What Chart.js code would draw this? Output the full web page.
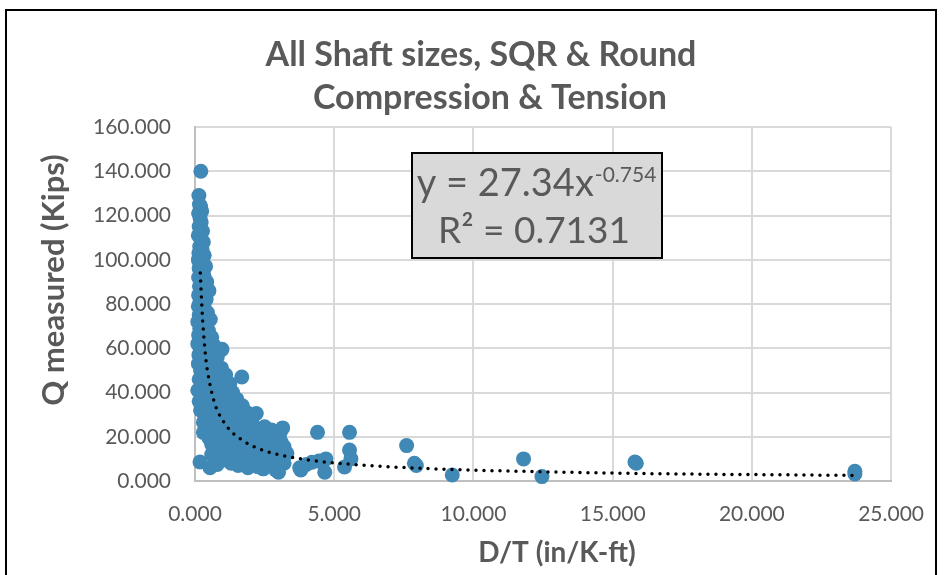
<!DOCTYPE html>
<html>
<head>
<meta charset="utf-8">
<script src="https://cdn.jsdelivr.net/npm/chart.js@4.4.0/dist/chart.umd.min.js"></script>
<style>
html,body{margin:0;padding:0;background:#fff;overflow:hidden;}
#wrap{position:relative;width:945px;height:575px;}
#frame{position:absolute;left:5px;top:9px;width:932px;height:620px;border:2px solid #000;box-sizing:border-box;}
</style>
</head>
<body>
<div id="wrap">
<canvas id="mycanvas" width="945" height="575"></canvas>
<div id="frame"></div>
</div>
<script>
// chart texts
var titleLines = ['All Shaft sizes, SQR & Round', 'Compression & Tension'];
var xTitle = 'D/T (in/K-ft)';
var yTitle = 'Q measured (Kips)';
var eqMain = 'y = 27.34x';
var eqExp = '-0.754';
var eqR2 = 'R\u00B2 = 0.7131';

// tick labels
var xTicks = [0, 5, 10, 15, 20, 25];
var yTicks = [0, 20, 40, 60, 80, 100, 120, 140, 160];

// measured points, D/T (x) and Q (y)
var dtVals = [
	0.21,0.14,0.16,0.2,0.24,0.13,0.18,0.22,0.15,0.27,0.12,0.2,0.3,0.17,0.25,0.14,0.33,0.21,0.12,0.28,0.18,
	0.38,0.15,0.24,0.32,0.13,0.2,0.42,0.27,0.16,0.35,0.5,0.22,0.13,0.3,0.4,0.18,0.26,
	0.12,0.34,0.2,0.45,0.15,0.28,0.55,0.1,0.22,0.38,0.17,0.48,0.3,0.13,0.6,0.25,0.42,0.1,0.7,0.2,0.97,0.35,0.55,0.14,
	0.8,0.27,0.45,0.12,0.65,0.95,0.2,0.38,1.1,1.68,0.55,0.15,0.8,1.25,0.3,0.6,1.0,0.1,0.45,1.35,0.75,
	0.25,1.15,0.55,0.9,1.5,0.15,1.3,0.7,1.05,1.7,0.4,0.85,1.4,0.2,1.2,0.6,1.85,2.2,1.0,0.35,1.55,0.75,1.25,0.5,1.9,0.9,0.3,1.45,2.05,0.65,1.1,1.7,
	2.5,3.15,0.45,1.35,2.0,0.85,2.75,1.6,0.3,1.1,2.3,3.05,0.65,1.85,1.3,2.6,0.95,2.1,0.5,1.55,2.9,1.15,2.4,0.75,1.8,3.1,1.35,2.2,0.6,2.7,1.6,1.05,2.0,3.2,0.85,2.45,
	1.3,2.85,1.75,0.7,2.2,3.0,1.0,2.55,1.5,3.3,0.6,2.0,1.2,2.75,1.75,2.35,0.9,3.1,1.45,2.6,2.05,1.1,2.9,1.7,0.18,2.35,1.3,3.2,0.8,2.0,2.65,1.55,2.25,0.54,3.0,1.9,2.9,2.45,3.0,
	3.76,4.0,4.2,4.4,4.45,4.66,4.7,5.37,5.55,5.55,5.6,3.8,7.6,7.88,7.95,9.24,11.8,12.46,15.8,15.85,23.7,23.7
];
var qVals = [
	140,129,125,124,122,121,119,117,115,113,111,110,108,106,105,103,102,101,100,99,98,
	97,96,95,93,92,91,90,89,88,87,86,85,84,83,82,81,80,
	79,78,77,76,75,74,73,72,71,70,69,68,67,66,65,64,63,62,61,60,59.5,59,58,57,
	56,55,54,53,52,51,50,49,48,47,47,46,45,44,44,43,42,41,41,40,40,
	39,39,38,37,37,36,36,35,35,34,34,33,33,32,32,31,31,30.5,30,30,29,29,28,28,27,27,26.5,26,26,25.5,25,25,
	24.5,24,24,23.5,23.5,23,23,22.5,22,22,21.5,21.5,21,21,20.5,20,20,19.5,19.5,19,19,18.5,18,18,17.5,17.5,17,17,16.5,16.5,16,16,15.5,15.5,15,15,
	14.5,14.5,14,14,13.5,13.5,13,13,12.5,12.5,12,12,11.5,11.5,11,11,10.5,10.5,10,10,9.5,9.5,9,9,8.6,8.5,8,8,7.5,7.5,7,7,6.5,6,6,6,5,5.5,4,
	6,7.5,8.5,22,9,4,10,6.3,22,14,10,5,16,8,7,2.7,10,2,8.6,8,4.4,3.2
];

// dotted power trendline
var trendX = [0.19,0.25,0.3,0.4,0.5,0.6,0.75,1,1.25,1.5,2,2.5,3,4,5,6,7,8,10,12,14,16,18,20,22,23.7];
var trendY = [94,78,68,54,46,40,33.5,27.3,23,20.2,16.2,13.7,11.9,9.6,8.2,7.2,6.4,5.8,4.9,4.3,3.8,3.4,3.1,2.9,2.7,2.5];

var grey = '#595959';

var points = [];
for (var i in dtVals) {
	points.push({x: dtVals[i], y: qVals[i]});
}
var trend = [];
for (var j in trendX) {
	trend.push({x: trendX[j], y: trendY[j]});
}

var textPlugin = {
	id: 'texts',
	afterDraw: function(chart) {
		var ctx = chart.ctx;
		ctx.save();
		ctx.fillStyle = grey;
		ctx.textAlign = 'center';
		ctx.textBaseline = 'middle';
		ctx.font = 'bold 34px Lato';
		ctx.fillText(titleLines[0], 481, 55);
		ctx.fillText(titleLines[1], 490, 98);

		ctx.font = 'bold 28px Lato';
		ctx.fillText(xTitle, 557, 553);
		ctx.font = 'bold 31px Lato';
		ctx.save();
		ctx.translate(54, 280);
		ctx.rotate(-Math.PI / 2);
		ctx.fillText(yTitle, 0, 0);
		ctx.restore();

		// equation box
		ctx.fillStyle = '#d9d9d9';
		ctx.fillRect(412, 153, 250, 105);
		ctx.strokeStyle = '#000';
		ctx.lineWidth = 2;
		ctx.strokeRect(412, 153, 250, 105);

		ctx.fillStyle = grey;
		ctx.textBaseline = 'alphabetic';
		ctx.textAlign = 'left';
		ctx.font = '38px Lato';
		var w1 = ctx.measureText(eqMain).width;
		ctx.font = '21px Lato';
		var w2 = ctx.measureText(eqExp).width;
		var x0 = 536 - (w1 + w2) / 2;
		ctx.font = '38px Lato';
		ctx.fillText(eqMain, x0, 196);
		ctx.font = '21px Lato';
		ctx.fillText(eqExp, x0 + w1 + 1, 182);
		ctx.textAlign = 'center';
		ctx.font = '37px Lato';
		ctx.fillText(eqR2, 534, 243);
		ctx.restore();
	}
};

var ctx = document.getElementById('mycanvas');
var scatterChart = new Chart(ctx, {
	type: 'scatter',
	data: {
		datasets: [
			{
				label: 'trend',
				data: trend,
				showLine: true,
				pointRadius: 0,
				borderColor: '#000',
				borderWidth: 3.5,
				borderDash: [0, 8],
				borderCapStyle: 'round',
				cubicInterpolationMode: 'monotone',
				fill: false,
				order: 0
			},
			{
				label: 'Q measured',
				data: points,
				pointRadius: 7.5,
				pointBorderWidth: 0,
				backgroundColor: 'rgb(64,137,182)',
				borderColor: 'rgb(64,137,182)',
				clip: false,
				order: 1
			}
		]
	},
	options: {
		responsive: false,
		animation: false,
		layout: {padding: {left: 78, right: 52, top: 127, bottom: 0}},
		plugins: {
			legend: {display: false},
			title: {display: false},
			tooltip: {enabled: false}
		},
		scales: {
			x: {
				type: 'linear',
				min: xTicks[0],
				max: xTicks[xTicks.length - 1],
				afterBuildTicks: function(s) { s.ticks = xTicks.map(function(v) { return {value: v}; }); },
				afterFit: function(s) { s.height = 94; },
				ticks: {
					color: grey,
					font: {family: 'Lato', size: 21},
					padding: 21,
					callback: function(v) { return v.toFixed(3); }
				},
				grid: {color: '#d9d9d9', lineWidth: 2, drawTicks: false},
				border: {color: '#bfbfbf', width: 2}
			},
			y: {
				min: yTicks[0],
				max: yTicks[yTicks.length - 1],
				afterBuildTicks: function(s) { s.ticks = yTicks.map(function(v) { return {value: v}; }); },
				afterFit: function(s) { s.width = 117; },
				ticks: {
					color: grey,
					font: {family: 'Lato', size: 21},
					padding: 24,
					callback: function(v) { return v.toFixed(3); }
				},
				grid: {color: '#d9d9d9', lineWidth: 2, drawTicks: false},
				border: {color: '#bfbfbf', width: 2}
			}
		}
	},
	plugins: [textPlugin]
});
</script>
</body>
</html>
